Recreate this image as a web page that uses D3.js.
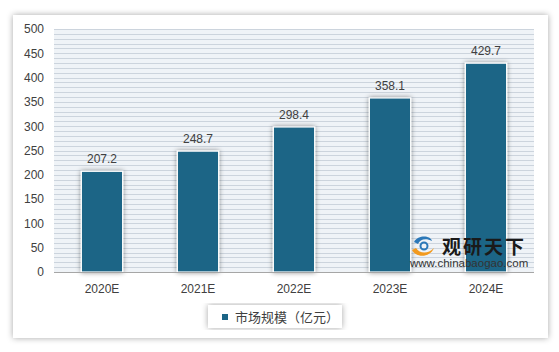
<!DOCTYPE html>
<html>
<head>
<meta charset="utf-8">
<script src="https://cdn.jsdelivr.net/npm/d3@7"></script>
<style>
  body { margin: 0; background: #fff; }
  text { font-family: "Liberation Sans", "Noto Sans CJK SC", sans-serif; }
</style>
</head>
<body>
<div id="chart"></div>
<script>
var years = ["2020E", "2021E", "2022E", "2023E", "2024E"];
var marketSize = [207.2, 248.7, 298.4, 358.1, 429.7];
var yTicks = [0, 50, 100, 150, 200, 250, 300, 350, 400, 450, 500];
var seriesName = "市场规模（亿元）";

var width = 559, height = 352;
var margin = {left: 54, right: 25, top: 29, bottom: 80};
var barColor = "#1c6586";

var svg = d3.select("#chart").append("svg")
    .attr("width", width)
    .attr("height", height);

var defs = svg.append("defs");
var sh = defs.append("filter").attr("id", "cardShadow")
    .attr("x", "-5%").attr("y", "-5%").attr("width", "110%").attr("height", "110%");
sh.append("feDropShadow").attr("dx", 0).attr("dy", 0).attr("stdDeviation", 3)
    .attr("flood-color", "#000").attr("flood-opacity", 0.35);

var bsh = defs.append("filter").attr("id", "barShadow")
    .attr("x", "-30%").attr("y", "-10%").attr("width", "160%").attr("height", "120%");
bsh.append("feDropShadow").attr("dx", 0).attr("dy", 0).attr("stdDeviation", 2.5)
    .attr("flood-color", "#000").attr("flood-opacity", 0.45);

// card
svg.append("rect")
    .attr("x", 13).attr("y", 15)
    .attr("width", 535).attr("height", 323)
    .attr("fill", "#fff")
    .attr("filter", "url(#cardShadow)");

var x = d3.scaleBand()
    .domain(years)
    .range([margin.left, width - margin.right])
    .paddingInner(0.57)
    .paddingOuter(0.285);

var y = d3.scaleLinear()
    .domain([0, 500])
    .range([height - margin.bottom, margin.top]);

// striped plot background
svg.append("rect")
    .attr("x", margin.left).attr("y", y(500))
    .attr("width", width - margin.right - margin.left)
    .attr("height", y(0) - y(500))
    .attr("fill", "#eff3f7");

svg.append("g").selectAll("line")
    .data(d3.range(0, 501, 10))
    .join("line")
    .attr("x1", margin.left).attr("x2", width - margin.right)
    .attr("y1", d => Math.round(y(d)) + 0.5)
    .attr("y2", d => Math.round(y(d)) + 0.5)
    .attr("stroke", "#ccd4dd")
    .attr("stroke-width", 1);

// bars
svg.append("g").selectAll("rect")
    .data(marketSize)
    .join("rect")
    .attr("x", (d, i) => x(years[i]))
    .attr("y", d => y(d))
    .attr("width", x.bandwidth())
    .attr("height", d => y(0) - y(d))
    .attr("fill", barColor)
    .attr("stroke", "#fff")
    .attr("stroke-width", 1.2)
    .attr("filter", "url(#barShadow)");

// baseline
svg.append("line")
    .attr("x1", margin.left).attr("x2", width - margin.right)
    .attr("y1", y(0) + 0.5).attr("y2", y(0) + 0.5)
    .attr("stroke", "#a6a6a6").attr("stroke-width", 1.2);

// value labels
svg.append("g").selectAll("text")
    .data(marketSize)
    .join("text")
    .attr("x", (d, i) => x(years[i]) + x.bandwidth() / 2)
    .attr("y", d => y(d) - 8)
    .attr("text-anchor", "middle")
    .attr("font-size", 12)
    .attr("fill", "#404040")
    .text(d => d.toFixed(1));

// y axis
var yAxis = svg.append("g")
    .attr("transform", "translate(" + (margin.left - 10) + ",0)")
    .call(d3.axisLeft(y).tickValues(yTicks).tickSize(0).tickPadding(0));
yAxis.select(".domain").remove();
yAxis.selectAll("text").attr("font-size", 12).attr("fill", "#404040");

// x axis
var xAxis = svg.append("g")
    .attr("transform", "translate(0," + (y(0) + 12) + ")")
    .call(d3.axisBottom(x).tickSize(0).tickPadding(0));
xAxis.select(".domain").remove();
xAxis.selectAll("text").attr("font-size", 12).attr("fill", "#404040");

// legend
var lg = svg.append("g").attr("transform", "translate(208,305)");
lg.append("rect")
    .attr("width", 134).attr("height", 23)
    .attr("fill", "#fff")
    .attr("filter", "url(#cardShadow)");
lg.append("rect")
    .attr("x", 14).attr("y", 9)
    .attr("width", 6).attr("height", 6)
    .attr("fill", barColor);
lg.append("text")
    .attr("x", 27).attr("y", 16.5)
    .attr("font-size", 13)
    .attr("fill", "#404040")
    .text(seriesName);

// watermark
var wm = svg.append("g").attr("transform", "translate(410,236)");
wm.append("path")
    .attr("d", "M4,6 C8,-1 20,-1 22,5 C16,2 10,3 8,8 Z")
    .attr("fill", "#2b78b8");
wm.append("path")
    .attr("d", "M2,14 C6,22 20,22 24,12 C18,18 10,18 6,12 Z")
    .attr("fill", "#f29a1e");
wm.append("circle").attr("cx", 14).attr("cy", 10).attr("r", 3.5)
    .attr("fill", "none").attr("stroke", "#2b78b8").attr("stroke-width", 2);
wm.append("text")
    .attr("x", 32).attr("y", 18)
    .attr("font-size", 19)
    .attr("font-weight", "bold")
    .attr("letter-spacing", 2)
    .attr("fill", "#1a1a1a")
    .attr("font-family", "Noto Sans CJK SC")
    .text("观研天下");
wm.append("text")
    .attr("x", 0).attr("y", 31)
    .attr("font-size", 11.5)
    .attr("fill", "#333")
    .text("www.chinabaogao.com");
</script>
</body>
</html>
